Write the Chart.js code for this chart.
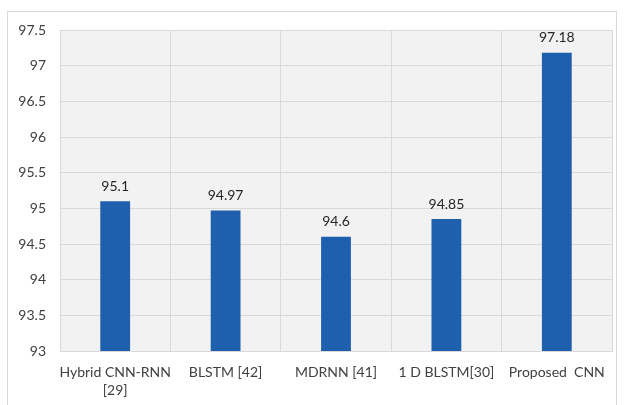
<!DOCTYPE html>
<html>
<head>
<meta charset="utf-8">
<script src="https://cdn.jsdelivr.net/npm/chart.js@4"></script>
<style>
  body { margin: 0; background: #fff; }
  #wrap { position: relative; width: 626px; height: 405px; }
  #frame { position: absolute; left: 7px; top: 11px; width: 610px; height: 400px; border: 1px solid #d9d9d9; box-sizing: border-box; }
  canvas { position: absolute; left: 0; top: 0; }
</style>
</head>
<body>
<div id="wrap">
  <div id="frame"></div>
  <canvas id="chart" width="626" height="405"></canvas>
</div>
<script>
const categories = [['Hybrid CNN-RNN', '[29]'], 'BLSTM [42]', 'MDRNN [41]', '1 D BLSTM[30]', 'Proposed  CNN'];
const accuracy = [95.1, 94.97, 94.6, 94.85, 97.18];
const valueLabels = ['95.1', '94.97', '94.6', '94.85', '97.18'];
const yTickLabels = ['93', '93.5', '94', '94.5', '95', '95.5', '96', '96.5', '97', '97.5'];

const fontFamily = 'Lato, "Open Sans", sans-serif';

// grey plot background + value labels above bars
const plotExtras = {
    id: 'plotExtras',
    beforeDraw(chart) {
        const a = chart.chartArea;
        const ctx = chart.ctx;
        ctx.save();
        ctx.fillStyle = '#f2f2f2';
        ctx.fillRect(a.left, a.top, a.right - a.left, a.bottom - a.top);
        ctx.restore();
    },
    afterDatasetsDraw(chart) {
        const ctx = chart.ctx;
        const meta = chart.getDatasetMeta(0);
        ctx.save();
        ctx.font = '14px ' + fontFamily;
        ctx.fillStyle = '#262626';
        ctx.textAlign = 'center';
        ctx.textBaseline = 'bottom';
        meta.data.forEach((bar, i) => {
            ctx.fillText(valueLabels[i], bar.x, bar.y - 8);
        });
        ctx.restore();
    }
};

function createChart() {
    const ctx = document.getElementById('chart');
    new Chart(ctx, {
        type: 'bar',
        data: {
            labels: categories,
            datasets: [{
                data: accuracy,
                backgroundColor: '#1e5fae',
                categoryPercentage: 1,
                barPercentage: 0.27
            }]
        },
        options: {
            responsive: false,
            animation: false,
            layout: { padding: { left: 0, top: 30, right: 14, bottom: 0 } },
            plugins: { legend: { display: false }, tooltip: { enabled: false } },
            scales: {
                x: {
                    grid: { color: '#d9d9d9', drawTicks: false, offset: true },
                    border: { color: '#d9d9d9' },
                    ticks: { color: '#404040', font: { family: fontFamily, size: 14, lineHeight: 1.3 }, padding: 12, maxRotation: 0, autoSkip: false },
                    afterFit(scale) { scale.height = 54; }
                },
                y: {
                    min: 93,
                    max: 97.5,
                    ticks: {
                        stepSize: 0.5,
                        color: '#404040',
                        font: { family: fontFamily, size: 14 },
                        padding: 14,
                        callback: (v, i) => yTickLabels[i]
                    },
                    grid: { color: '#d9d9d9', drawTicks: false },
                    border: { display: false },
                    afterFit(scale) { scale.width = 60; }
                }
            }
        },
        plugins: [plotExtras]
    });
}

createChart();
</script>
</body>
</html>
